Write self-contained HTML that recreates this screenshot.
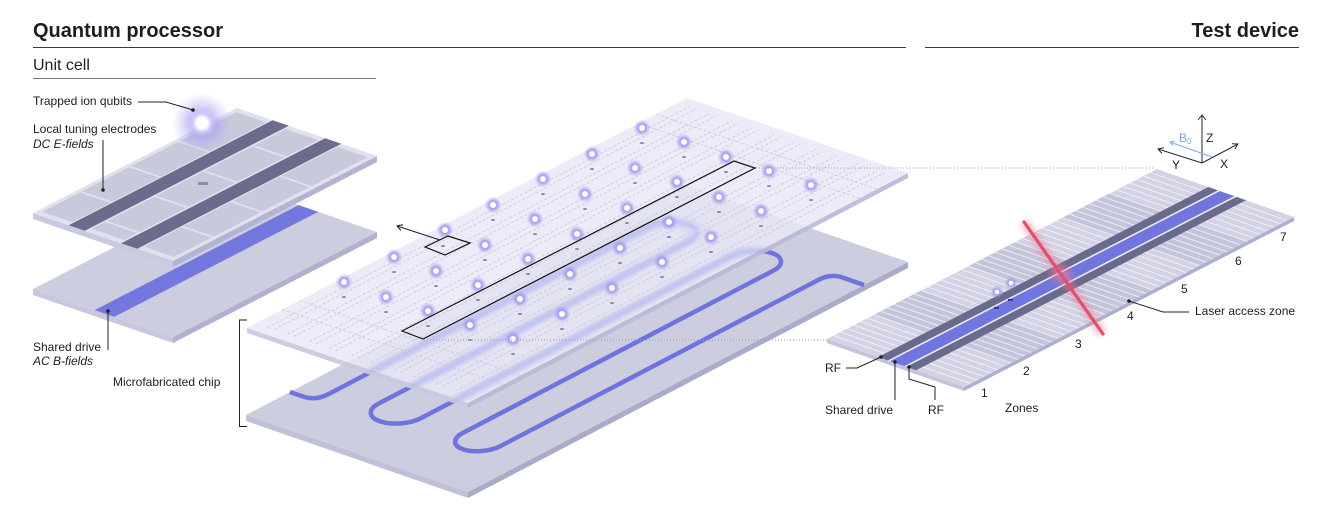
<!DOCTYPE html>
<html><head><meta charset="utf-8"><style>html,body{margin:0;padding:0;background:#fff}svg{display:block}</style></head>
<body>
<svg xmlns="http://www.w3.org/2000/svg" width="1324" height="510" viewBox="0 0 1324 510" font-family="'Liberation Sans', Arial, sans-serif" fill="#1e1e1e">
<defs>
<radialGradient id="qg">
<stop offset="0" stop-color="#fff"/>
<stop offset="0.28" stop-color="#fff"/>
<stop offset="0.42" stop-color="#a59cf3"/>
<stop offset="0.65" stop-color="#9a90f0" stop-opacity="0.5"/>
<stop offset="1" stop-color="#a89ff5" stop-opacity="0"/>
</radialGradient>
<radialGradient id="qb">
<stop offset="0" stop-color="#fff"/>
<stop offset="0.18" stop-color="#fff"/>
<stop offset="0.3" stop-color="#d2cbfb"/>
<stop offset="0.5" stop-color="#a398f4" stop-opacity="0.5"/>
<stop offset="1" stop-color="#b5adf7" stop-opacity="0"/>
</radialGradient>
<filter id="bl" x="-50%" y="-50%" width="200%" height="200%"><feGaussianBlur stdDeviation="3"/></filter>
<filter id="bl2" x="-10%" y="-10%" width="120%" height="120%"><feGaussianBlur stdDeviation="0.8"/></filter>
<clipPath id="tc"><polygon points="247,328 687,98 908,173 468,403"/></clipPath>
<g id="q"><circle r="8.5" fill="url(#qg)"/><circle r="2.3" fill="#fff"/></g>
<ellipse id="t" rx="2.1" ry="0.9" fill="#7b7b9c"/>
</defs>

<!-- Titles -->
<text x="33" y="37" font-size="20" font-weight="700">Quantum processor</text>
<line x1="33" y1="47.5" x2="906" y2="47.5" stroke="#3a3a3a" stroke-width="1"/>
<text x="1299" y="37" font-size="20" font-weight="700" text-anchor="end">Test device</text>
<line x1="925" y1="47.5" x2="1299" y2="47.5" stroke="#3a3a3a" stroke-width="1"/>
<text x="33" y="70" font-size="16">Unit cell</text>
<line x1="33" y1="78.5" x2="376" y2="78.5" stroke="#7a7a7a" stroke-width="1"/>

<!-- Unit cell lower plate -->
<polygon points="33,289 173,337 173,343 33,295" fill="#c7c7dd"/>
<polygon points="173,337 377,232 377,238 173,343" fill="#b1b1cf"/>
<g transform="matrix(2.04,-1.05,1.40,0.48,33,289)">
<rect width="100" height="100" fill="#cdcde0"/>
<rect y="44" width="100" height="14" fill="#7378de"/>
</g>

<!-- Unit cell upper plate -->
<polygon points="33,213 173,261 173,267 33,219" fill="#cacadf"/>
<polygon points="173,261 377,156 377,162 173,267" fill="#b4b4d1"/>
<g transform="matrix(2.04,-1.05,1.40,0.48,33,213)">
<rect width="100" height="100" fill="#e0e0ee"/>
<g fill="#c9c9dc">
<rect x="2.5" y="3" width="18.5" height="21.5"/>
<rect x="22" y="3" width="23" height="21.5"/>
<rect x="46" y="3" width="23" height="21.5"/>
<rect x="70" y="3" width="27.5" height="21.5"/>
<rect x="2.5" y="38.5" width="6.5" height="23"/>
<rect x="10" y="38.5" width="23" height="23"/>
<rect x="34" y="38.5" width="23" height="23"/>
<rect x="58" y="38.5" width="23" height="23"/>
<rect x="82" y="38.5" width="15.5" height="23"/>
<rect x="2.5" y="75.5" width="18.5" height="21.5"/>
<rect x="22" y="75.5" width="23" height="21.5"/>
<rect x="46" y="75.5" width="23" height="21.5"/>
<rect x="70" y="75.5" width="27.5" height="21.5"/>
</g>
<rect y="25.5" width="100" height="11.5" fill="#6b6b8e"/>
<rect y="63" width="100" height="11.5" fill="#6b6b8e"/>
</g>
<rect x="198" y="182" width="10" height="3" fill="#8c8cb6"/>
<circle cx="202" cy="123" r="30" fill="url(#qb)"/>

<!-- Center lower chip -->
<polygon points="246,415 468,492 468,498 246,421" fill="#c0c0d9"/>
<polygon points="468,492 908,262 908,268 468,498" fill="#aaaac9"/>
<g transform="matrix(4.40,-2.30,2.22,0.77,246,415)">
<rect width="100" height="100" fill="#cdcde0"/>
<path d="M10,0 L10,6 Q10,11.5 13,11.5 L85.5,11.5 A4.4 9.25 0 0 1 85.5,30 L15,30 A4.5 9.5 0 0 0 15,49 L85.5,49 A4.5 9.5 0 0 1 85.5,68 L15,68 A4.3 8.5 0 0 0 15,85 L87,85 Q90,85 90,90 L90,100" fill="none" stroke="#6e73dd" stroke-width="4.5" vector-effect="non-scaling-stroke"/>
</g>

<!-- Center top chip -->
<polygon points="247,328 468,403 468,408 247,333" fill="#c9c9df" opacity="0.92"/>
<polygon points="468,403 908,173 908,178 468,408" fill="#babad6" opacity="0.92"/>
<polygon points="247,328 687,98 908,173 468,403" fill="#e8e7f5" opacity="0.84"/>
<g clip-path="url(#tc)">
<g transform="matrix(4.40,-2.30,2.22,0.77,246,415)" filter="url(#bl2)">
<path d="M10,0 L10,6 Q10,11.5 13,11.5 L85.5,11.5 A4.4 9.25 0 0 1 85.5,30 L15,30 A4.5 9.5 0 0 0 15,49 L85.5,49 A4.5 9.5 0 0 1 85.5,68 L15,68 A4.3 8.5 0 0 0 15,85 L87,85 Q90,85 90,90 L90,100" fill="none" stroke="#b4b7f2" stroke-opacity="0.5" stroke-width="9" vector-effect="non-scaling-stroke"/>
</g>
</g>
<path fill="none" stroke="#c8c8da" stroke-width="0.8" stroke-dasharray="3 2" d="M267.5,327.4L689.9,106.6M274.1,329.6L696.5,108.8M287.4,334.1L709.8,113.3M294,336.4L716.4,115.6M309.5,341.6L731.9,120.8M316.1,343.9L738.5,123.1M329.4,348.4L751.8,127.6M336,350.6L758.4,129.8M351.5,355.9L773.9,135.1M358.1,358.1L780.5,137.3M371.4,362.6L793.8,141.8M378,364.9L800.4,144.1M393.5,370.1L815.9,149.3M400.1,372.4L822.5,151.6M413.4,376.9L835.8,156.1M420,379.1L842.4,158.3M435.5,384.4L857.9,163.6M442.1,386.6L864.5,165.8M455.6,391.1L878,170.3M462.2,393.4L884.6,172.6M282.2,309.6L503.2,384.6M299.8,300.4L520.8,375.4M638.6,123.3L859.6,198.3M656.2,114.1L877.2,189.1"/>

<!-- traps -->
<g>
<use href="#t" x="642" y="143"/><use href="#t" x="592" y="169"/><use href="#t" x="543" y="194"/><use href="#t" x="493" y="220"/><use href="#t" x="443" y="246"/><use href="#t" x="394" y="272"/><use href="#t" x="344" y="297"/>
<use href="#t" x="684" y="157"/><use href="#t" x="635" y="183"/><use href="#t" x="585" y="209"/><use href="#t" x="535" y="234"/><use href="#t" x="485" y="260"/><use href="#t" x="436" y="286"/><use href="#t" x="386" y="312"/>
<use href="#t" x="726" y="172"/><use href="#t" x="677" y="197"/><use href="#t" x="627" y="223"/><use href="#t" x="577" y="249"/><use href="#t" x="528" y="274"/><use href="#t" x="478" y="300"/><use href="#t" x="428" y="326"/>
<use href="#t" x="769" y="186"/><use href="#t" x="719" y="212"/><use href="#t" x="669" y="237"/><use href="#t" x="620" y="263"/><use href="#t" x="570" y="289"/><use href="#t" x="520" y="314"/><use href="#t" x="470" y="340"/>
<use href="#t" x="811" y="200"/><use href="#t" x="761" y="226"/><use href="#t" x="711" y="252"/><use href="#t" x="662" y="277"/><use href="#t" x="612" y="303"/><use href="#t" x="562" y="329"/><use href="#t" x="513" y="354"/>
</g>
<!-- qubits -->
<g>
<use href="#q" x="642" y="128"/><use href="#q" x="592" y="154"/><use href="#q" x="543" y="179"/><use href="#q" x="493" y="205"/><use href="#q" x="445" y="230"/><use href="#q" x="394" y="257"/><use href="#q" x="344" y="282"/>
<use href="#q" x="684" y="142"/><use href="#q" x="635" y="168"/><use href="#q" x="585" y="194"/><use href="#q" x="535" y="219"/><use href="#q" x="485" y="245"/><use href="#q" x="436" y="271"/><use href="#q" x="386" y="297"/>
<use href="#q" x="726" y="157"/><use href="#q" x="677" y="182"/><use href="#q" x="627" y="208"/><use href="#q" x="577" y="234"/><use href="#q" x="528" y="259"/><use href="#q" x="478" y="285"/><use href="#q" x="428" y="311"/>
<use href="#q" x="769" y="171"/><use href="#q" x="719" y="197"/><use href="#q" x="669" y="222"/><use href="#q" x="620" y="248"/><use href="#q" x="570" y="274"/><use href="#q" x="520" y="299"/><use href="#q" x="470" y="325"/>
<use href="#q" x="811" y="185"/><use href="#q" x="761" y="211"/><use href="#q" x="711" y="237"/><use href="#q" x="662" y="262"/><use href="#q" x="612" y="288"/><use href="#q" x="562" y="314"/><use href="#q" x="513" y="339"/>
</g>

<!-- outlines -->
<polygon points="402,331 423,339 755,168 734,161" fill="none" stroke="#111" stroke-width="1.2"/>
<polygon points="425,247 448,236 470,243 445,255" fill="none" stroke="#111" stroke-width="1.2"/>
<path d="M440,240 L397,226 M401,230.5 L397,226 L403,224.8" fill="none" stroke="#222" stroke-width="1"/>

<!-- dotted connectors -->
<line x1="756" y1="168" x2="1153" y2="168" stroke="#9d9db5" stroke-width="1" stroke-dasharray="1 2"/>
<line x1="424" y1="340" x2="827" y2="340" stroke="#9d9db5" stroke-width="1" stroke-dasharray="1 2"/>

<!-- Test device -->
<polygon points="827,339 964,387 964,391 827,343" fill="#c3c3db"/>
<polygon points="964,387 1294,217 1294,221 964,391" fill="#aeaecd"/>
<g transform="matrix(3.30,-1.70,1.37,0.48,827,339)">
<rect width="100" height="100" fill="#d3d3e5"/>
<path d="M14.29,0h14.28v37.5h-14.28zM42.86,0h14.28v37.5h-14.28zM71.43,0h14.28v37.5h-14.28zM14.29,65h14.28v35h-14.28zM42.86,65h14.28v35h-14.28zM71.43,65h14.28v35h-14.28z" fill="#c4c4da"/>
<line x1="1.84" y1="18.75" x2="99" y2="18.75" stroke="#f4f4fa" stroke-opacity="0.85" stroke-width="37.5" stroke-dasharray="0.35 1.6908"/>
<line x1="1.84" y1="82.5" x2="99" y2="82.5" stroke="#f4f4fa" stroke-opacity="0.85" stroke-width="35" stroke-dasharray="0.35 1.6908"/>
<rect y="37.5" width="100" height="7" fill="#6a6a8c"/>
<rect y="44.5" width="100" height="1.5" fill="#e8e8f4"/>
<rect y="46" width="100" height="10.5" fill="#7076de"/>
<rect y="56.5" width="100" height="1.5" fill="#e8e8f4"/>
<rect y="58" width="100" height="7" fill="#6a6a8c"/>
</g>
<rect x="994" y="307" width="5" height="1.8" fill="#2c2ca0"/>
<rect x="1008" y="299" width="5" height="1.8" fill="#2c2ca0"/>
<circle cx="997" cy="292" r="6.5" fill="url(#qg)"/><circle cx="997" cy="292" r="1.8" fill="#fff"/>
<circle cx="1011" cy="283" r="6.5" fill="url(#qg)"/><circle cx="1011" cy="283" r="1.8" fill="#fff"/>
<!-- laser -->
<line x1="1024" y1="222" x2="1103" y2="334" stroke="#f27a95" stroke-width="10" opacity="0.45" filter="url(#bl)"/>
<ellipse cx="1061" cy="274" rx="12" ry="10" fill="#f07a95" opacity="0.35" filter="url(#bl)"/>
<line x1="1024" y1="222" x2="1103" y2="334" stroke="#e0506d" stroke-width="3.2" stroke-linecap="round"/>

<!-- Axes -->
<g stroke="#2a2a2a" stroke-width="1" fill="none">
<path d="M1202,163 L1202,115 M1198,120 L1202,115 L1206,120"/>
<path d="M1202,163 L1158,149 M1162,153.5 L1158,149 L1164,147.8"/>
<path d="M1202,163 L1238,144 M1232,143.8 L1238,144 L1234.8,149.1"/>
</g>
<path d="M1212,157 L1170,142 M1173.2,145.8 L1170,142 L1174.9,141.1" stroke="#86a9ec" stroke-width="1" fill="none"/>
<g font-size="12">
<text x="1206" y="142">Z</text>
<text x="1172" y="169">Y</text>
<text x="1220" y="168">X</text>
<text x="1179" y="142" fill="#7fa3ee">B<tspan font-size="8" dy="2">0</tspan></text>
</g>

<!-- Test device labels -->
<g font-size="12">
<text x="1280" y="241">7</text>
<text x="1235" y="265">6</text>
<text x="1181" y="293">5</text>
<text x="1127" y="320">4</text>
<text x="1075" y="348">3</text>
<text x="1023" y="375">2</text>
<text x="981" y="397">1</text>
<text x="1195" y="315">Laser access zone</text>
<text x="825" y="372">RF</text>
<text x="825" y="414">Shared drive</text>
<text x="928" y="414">RF</text>
<text x="1005" y="412">Zones</text>
</g>
<g stroke="#222" stroke-width="1" fill="none">
<path d="M1129,301 L1163,312 L1189,312"/>
<path d="M846,368 L857,368 L881,357"/>
<path d="M895,362 L895,400"/>
<path d="M909,367 L909,379 L935,387 L935,400"/>
</g>
<g fill="#222">
<circle cx="1129" cy="301" r="1.8"/>
<circle cx="881" cy="357" r="1.8"/>
<circle cx="895" cy="362" r="1.8"/>
<circle cx="909" cy="367" r="1.8"/>
</g>

<!-- Left labels -->
<g font-size="12">
<text x="33" y="105">Trapped ion qubits</text>
<text x="33" y="133">Local tuning electrodes</text>
<text x="33" y="148" font-style="italic">DC E-fields</text>
<text x="33" y="351">Shared drive</text>
<text x="33" y="365" font-style="italic">AC B-fields</text>
<text x="113" y="386">Microfabricated chip</text>
</g>
<g stroke="#222" stroke-width="1" fill="none">
<path d="M138,102 L166,102 L193,110"/>
<path d="M103,140 L103,190"/>
<path d="M108,311 L108,350"/>
<path d="M247,320 L239.5,320 L239.5,426.5 L247,426.5"/>
</g>
<g fill="#222">
<circle cx="193" cy="110" r="1.8"/>
<circle cx="103" cy="190" r="1.8"/>
<circle cx="108" cy="311" r="1.8"/>
</g>
</svg>
</body></html>
